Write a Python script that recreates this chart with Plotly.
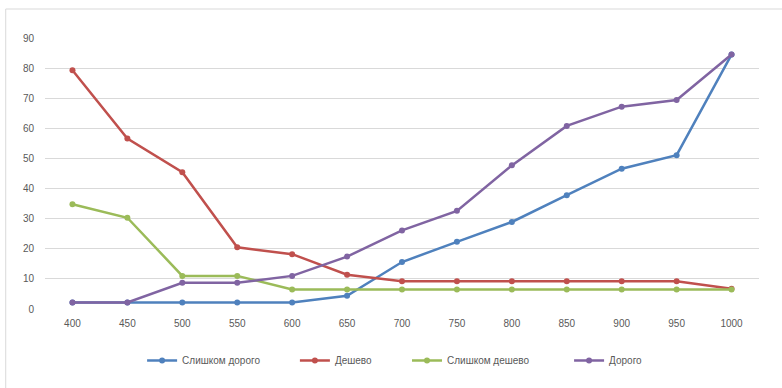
import plotly.graph_objects as go

# Price points (roubles) and share of respondents (%) for each answer
prices = ["400", "450", "500", "550", "600", "650", "700", "750", "800", "850", "900", "950", "1000"]
too_expensive = [2.2, 2.2, 2.2, 2.2, 2.2, 4.4, 15.6, 22.3, 28.9, 37.8, 46.6, 51.1, 84.5]
cheap = [79.3, 56.6, 45.4, 20.5, 18.2, 11.4, 9.2, 9.2, 9.2, 9.2, 9.2, 9.2, 6.7]
too_cheap = [34.8, 30.3, 11.0, 11.0, 6.5, 6.5, 6.5, 6.5, 6.5, 6.5, 6.5, 6.5, 6.5]
expensive = [2.2, 2.2, 8.7, 8.7, 11.0, 17.4, 26.1, 32.6, 47.7, 60.8, 67.2, 69.4, 84.5]

series = [
    ("Слишком дорого", too_expensive, "#4F81BD"),
    ("Дешево", cheap, "#C0504D"),
    ("Слишком дешево", too_cheap, "#9BBB59"),
    ("Дорого", expensive, "#8064A2"),
]

font_color = "#595959"
# one legend box per series so each entry sits at its own position
legend_names = ["legend2", "legend3", "legend4", "legend5"]
legend_x = [0.136, 0.350, 0.507, 0.734]

fig = go.Figure()
for (name, vals, color), lg in zip(series, legend_names):
    fig.add_trace(go.Scatter(
        x=prices, y=vals, name=name, mode="lines+markers",
        line=dict(color=color, width=2.5),
        marker=dict(color=color, size=6, symbol="circle"),
        legend=lg,
    ))

legend_layout = {}
for lg, lx in zip(legend_names, legend_x):
    legend_layout[lg] = dict(
        orientation="h", x=lx, xanchor="left", y=-0.19, yanchor="middle",
        font=dict(size=10, color=font_color), bgcolor="rgba(0,0,0,0)",
    )

fig.update_layout(
    width=782, height=388,
    margin=dict(l=45, r=23, t=38, b=79),
    paper_bgcolor="white", plot_bgcolor="white",
    font=dict(family="Liberation Sans, Arial, sans-serif", size=10, color=font_color),
    xaxis=dict(
        type="category", range=[-0.5, 12.5], showgrid=False, showline=False,
        zeroline=False, ticks="", ticklabelstandoff=7,
        tickfont=dict(size=10, color=font_color),
    ),
    yaxis=dict(
        range=[0, 90], dtick=10, showgrid=True, gridcolor="#D9D9D9", gridwidth=1,
        zeroline=False, showline=False, ticks="", ticklabelstandoff=10,
        tickfont=dict(size=10, color=font_color),
    ),
    shapes=[
        dict(type="line", xref="paper", yref="paper", x0=-0.055, x1=1.1, y0=1.107, y1=1.107,
             line=dict(color="#D9D9D9", width=1)),
        dict(type="line", xref="paper", yref="paper", x0=-0.055, x1=-0.055, y0=1.107, y1=-0.35,
             line=dict(color="#D9D9D9", width=1)),
    ],
    **legend_layout,
)

fig.write_html("out.html")
